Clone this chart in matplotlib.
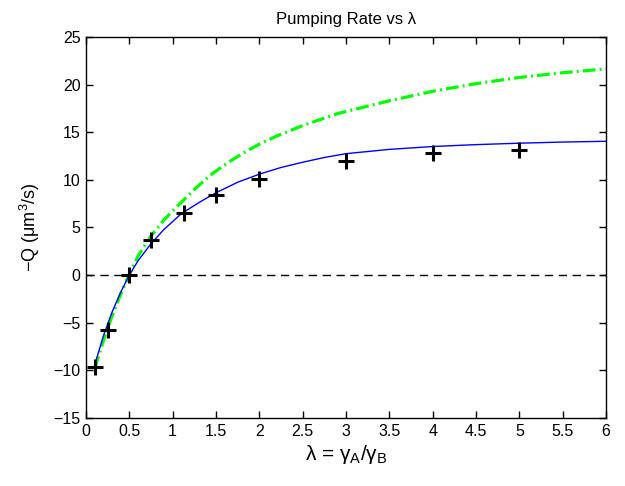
import numpy as np
import matplotlib
matplotlib.use('Agg')
import matplotlib.pyplot as plt

plt.rcParams['font.family'] = ['Liberation Sans', 'DejaVu Sans']
plt.rcParams['mathtext.fontset'] = 'custom'
plt.rcParams['mathtext.rm'] = 'Liberation Sans'
plt.rcParams['mathtext.it'] = 'Liberation Sans'

# measured pumping rates
lam_data = [0.1, 0.25, 0.5, 0.75, 1.125, 1.5, 2.0, 3.0, 4.0, 5.0]
q_data = [-9.6, -5.8, 0.0, 3.7, 6.5, 8.4, 10.1, 12.0, 12.8, 13.1]

# model curve (solid blue)
lam_model = [0.1, 0.2, 0.3, 0.4, 0.5, 0.6, 0.75, 0.9, 1.1, 1.3, 1.5, 1.75,
             2.0, 2.25, 2.5, 2.75, 3.0, 3.5, 4.0, 4.5, 5.0, 5.5, 6.0]
q_model = [-9.45, -6.4, -3.9, -1.8, 0.0, 1.5, 3.3, 4.8, 6.45, 7.6, 8.65, 9.75,
           10.6, 11.3, 11.85, 12.35, 12.75, 13.2, 13.5, 13.7, 13.85, 13.97, 14.05]

# asymptotic estimate (green dash-dot)
lam_asym = [0.1, 0.2, 0.3, 0.4, 0.5, 0.6, 0.75, 0.9, 1.05, 1.25, 1.45, 1.65,
            1.85, 2.0, 2.2, 2.5, 2.9, 3.5, 4.0, 4.5, 5.0, 5.5, 6.0]
q_asym = [-9.8, -6.9, -4.3, -2.0, 0.1, 2.0, 4.1, 5.8, 7.2, 9.0, 10.6, 11.9,
          13.0, 13.75, 14.6, 15.7, 16.95, 18.3, 19.3, 20.1, 20.75, 21.25, 21.65]

fig = plt.figure(figsize=(6.25, 4.86), dpi=100)
ax = fig.add_axes([0.1376, 0.1399, 0.832, 0.784])

ax.plot([0, 6], [0, 0], color='black', lw=1.0, dashes=(6, 4))
ax.plot(lam_asym, q_asym, color='#00ff00', lw=2.3, dashes=(4, 1.3, 0.6, 1.3))
ax.plot(lam_model, q_model, color='#0000ff', lw=1.0)
ax.plot(lam_data, q_data, linestyle='none', marker='+', color='black',
        markersize=11, markeredgewidth=2.2)

ax.set_xlim(0, 6)
ax.set_ylim(-15, 25)
ax.set_xticks(np.arange(0, 6.01, 0.5))
ax.set_xticklabels(['0', '0.5', '1', '1.5', '2', '2.5', '3', '3.5', '4',
                    '4.5', '5', '5.5', '6'])
ax.set_yticks(np.arange(-15, 26, 5))
ax.set_yticklabels(['\u221215', '\u221210', '\u22125', '0', '5', '10', '15',
                    '20', '25'])
ax.tick_params(direction='in', top=True, right=True, length=5, width=1,
               labelsize=11.5, pad=4)
for s in ax.spines.values():
    s.set_linewidth(1.0)

ax.set_title('Pumping Rate vs \u03bb', fontsize=12, pad=9)
ax.set_xlabel('\u03bb = \u03b3$_\\mathregular{A}$/\u03b3$_\\mathregular{B}$',
              fontsize=15, labelpad=3)
ax.set_ylabel(r'$\mathregular{-Q\ (\mu m^3/s)}$', fontsize=13, labelpad=8)

fig.savefig('out.png', dpi=100)
